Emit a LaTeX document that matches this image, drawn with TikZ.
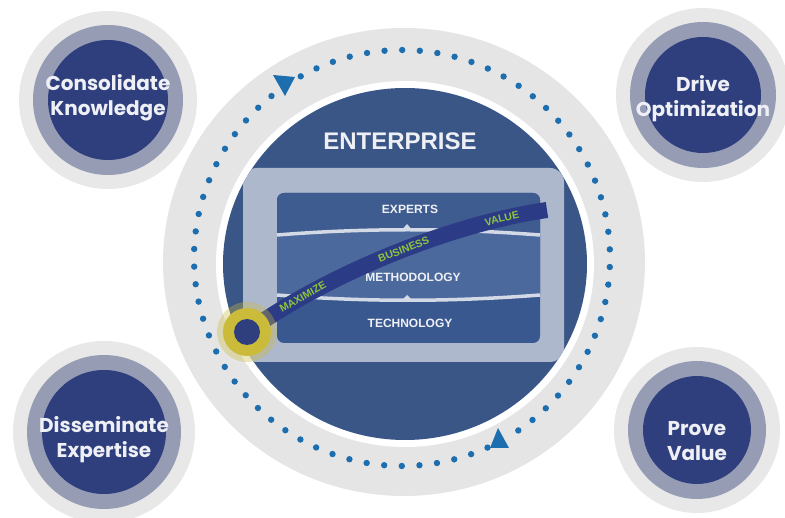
\documentclass[tikz,border=0pt]{standalone}
\usepackage{fontspec}
\setmainfont{Liberation Sans}
\newfontfamily\geofont{Poppins}
\usetikzlibrary{positioning}

\definecolor{halogray}{HTML}{E8E8E9}
\definecolor{ringgray}{HTML}{E5E5E6}
\definecolor{midgray}{HTML}{979CB5}
\definecolor{navy}{HTML}{2F3F7E}
\definecolor{bignavy}{HTML}{3A5687}
\definecolor{framegray}{HTML}{AEB8CD}
\definecolor{bandtop}{HTML}{3E5C90}
\definecolor{bandmid}{HTML}{4B699C}
\definecolor{bandlow}{HTML}{3A5890}
\definecolor{sepline}{HTML}{D3DAE6}
\definecolor{dotblue}{HTML}{1D6EAF}
\definecolor{valgreen}{HTML}{8CC43F}
\definecolor{hubyellow}{HTML}{CBBB3B}
\definecolor{bandnavy}{HTML}{2C3B85}
\definecolor{labelwhite}{HTML}{EEF0F5}

\tikzstyle{halo} = [circle, fill=halogray, inner sep=0pt]
\tikzstyle{midring} = [circle, fill=midgray, inner sep=0pt]
\tikzstyle{core} = [circle, fill=navy, inner sep=0pt]
\tikzstyle{goal} = [text=labelwhite, align=center, inner sep=0pt, font=\geofont\bfseries\fontsize{20}{25}\selectfont]
\tikzstyle{layer} = [text=labelwhite, inner sep=0pt, font=\bfseries\fontsize{12}{14}\selectfont]
\tikzstyle{valuetag} = [text=valgreen, inner sep=0pt, sloped, font=\bfseries\fontsize{10.5}{11}\selectfont]
\tikzstyle{dot} = [fill=dotblue]

\begin{document}
\begin{tikzpicture}[x=1pt, y=-1pt]
    \useasboundingbox (0,0) rectangle (785,518);

    % Goal circles in the corners
    \foreach \nm/\cx/\cy/\r/\ty/\txt in {
        consolidate/108/100/60/98/{Consolidate\\Knowledge},
        drive/703/95/58/99/{Drive\\Optimization},
        disseminate/104/432/62/440/{Disseminate\\Expertise},
        prove/697/430/54/441/{Prove\\Value}} {
        \pgfmathsetmacro{\dh}{2*\r+58}
        \pgfmathsetmacro{\dm}{2*\r+30}
        \pgfmathsetmacro{\dc}{2*\r}
        \node (\nm_halo) [halo, minimum size=\dh pt] at (\cx,\cy) {};
        \node (\nm_ring) [midring, minimum size=\dm pt] at (\cx,\cy) {};
        \node (\nm_core) [core, minimum size=\dc pt] at (\cx,\cy) {};
        \node (\nm) [goal] at (\cx,\ty) {\txt};
    }

    % Enterprise disc
    \fill[ringgray] (404,262) ellipse [x radius=241pt, y radius=234pt];
    \fill[white] (405,264) ellipse [x radius=189pt, y radius=183pt];
    \fill[bignavy] (405,264) ellipse [x radius=182pt, y radius=176pt];

    % Dotted cycle with two arrow heads
    \foreach \k in {1,...,73} {
        \ifnum\k=36\else
            \pgfmathsetmacro{\a}{124+\k*4.8649}
            \fill[dot] (402,258) ++(\a:208pt) circle (3.2pt);
        \fi
    }
    \fill[dotblue] (273,75) -- (295,77) -- (285,96) -- cycle;
    \fill[dotblue] (498,428) -- (509,448) -- (490,448) -- cycle;

    \node (enterprise) [text=labelwhite, font=\bfseries\fontsize{24}{28}\selectfont] at (400,141) {ENTERPRISE};

    % Frame round the layers
    \begin{scope}
        \clip (405,264) ellipse [x radius=182pt, y radius=176pt];
        \fill[framegray, rounded corners=14pt] (243,168) rectangle (564,362);
    \end{scope}

    % Layers
    \fill[bandlow, rounded corners=7pt] (277,193) rectangle (540,343);
    \fill[bandtop] (277,235) [rounded corners=7pt] -- (277,193) -- (540,193) [sharp corners] -- (540,235)
        .. controls (450,228) and (365,228) .. (277,235) -- cycle;
    \fill[bandmid] (277,235) .. controls (365,228) and (450,228) .. (540,235) -- (540,295)
        .. controls (450,302) and (365,302) .. (277,295) -- cycle;
    \draw[sepline, line width=3.5pt] (277,235) .. controls (365,228) and (450,228) .. (540,235);
    \draw[sepline, line width=3.5pt] (277,295) .. controls (365,302) and (450,302) .. (540,295);
    \fill[sepline] (401,231) -- (407,224) -- (413,231) -- cycle;
    \fill[sepline] (402,300) -- (407,295) -- (412,300) -- cycle;

    \node (experts) [layer] at (410,209) {EXPERTS};
    \node (methodology) [layer] at (413,277) {METHODOLOGY};
    \node (technology) [layer] at (410,323) {TECHNOLOGY};

    % Value band from the hub
    \coordinate (hub_c) at (247,332);
    \coordinate (band_end) at (547,210);
    \draw[bandnavy, line width=16pt] (hub_c) .. controls (328,274) and (450,224) .. (band_end)
        node[valuetag, pos=0.21] {MAXIMIZE}
        node[valuetag, pos=0.54] {BUSINESS}
        node[valuetag, pos=0.85] {VALUE};

    \fill[hubyellow, opacity=0.35] (hub_c) circle (30pt);
    \node (hub) [circle, fill=hubyellow, inner sep=0pt, minimum size=48pt] at (hub_c) {};
    \node (hub_core) [circle, fill=navy, inner sep=0pt, minimum size=26pt] at (hub_c) {};
\end{tikzpicture}
\end{document}
